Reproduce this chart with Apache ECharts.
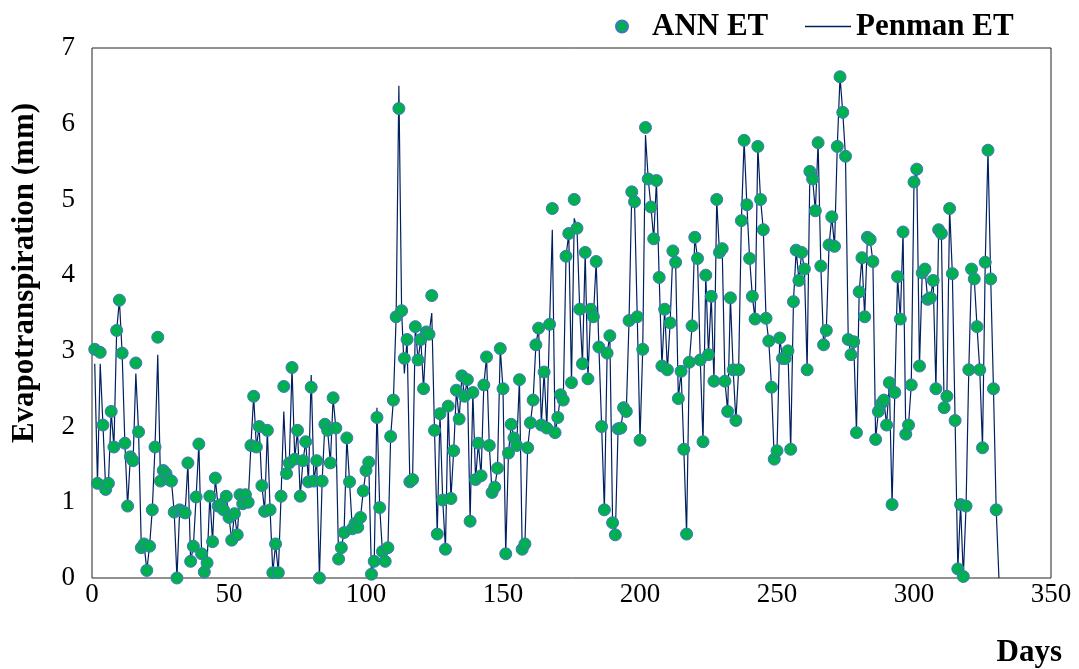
<!DOCTYPE html>
<html>
<head>
<meta charset="utf-8">
<script src="https://cdn.jsdelivr.net/npm/echarts@6/dist/echarts.min.js"></script>
<style>
  html, body { margin: 0; padding: 0; background: #fff; }
  #chart { width: 1079px; height: 669px; }
</style>
</head>
<body>
<div id="chart"></div>
<script>
// Daily evapotranspiration (mm): ANN estimate vs Penman reference
const annET = [
  3.02, 1.25, 2.98, 2.02, 1.17, 1.25, 2.2, 1.73, 3.27, 3.67,
  2.97, 1.78, 0.95, 1.6, 1.55, 2.84, 1.93, 0.4, 0.45, 0.1,
  0.42, 0.9, 1.73, 3.18, 1.28, 1.42, 1.38, 1.3, 1.28, 0.87,
  0.0, 0.9, 0.88, 0.86, 1.52, 0.22, 0.42, 1.07, 1.77, 0.32,
  0.08, 0.2, 1.08, 0.48, 1.32, 0.95, 0.97, 0.9, 1.08, 0.8,
  0.5, 0.85, 0.57, 1.1, 0.98, 1.1, 1.0, 1.75, 2.4, 1.73,
  2.0, 1.22, 0.88, 1.95, 0.9, 0.07, 0.45, 0.07, 1.08, 2.53,
  1.38, 1.52, 2.78, 1.57, 1.95, 1.08, 1.55, 1.8, 1.27, 2.52,
  1.28, 1.55, 0.0, 1.28, 2.03, 1.95, 1.52, 2.38, 1.98, 0.25,
  0.4, 0.6, 1.85, 1.27, 0.65, 0.72, 0.67, 0.8, 1.15, 1.42,
  1.53, 0.05, 0.22, 2.12, 0.93, 0.35, 0.22, 0.4, 1.87, 2.35,
  3.45, 6.2, 3.53, 2.9, 3.15, 1.27, 1.3, 3.32, 2.88, 3.15,
  2.5, 3.25, 3.22, 3.73, 1.95, 0.58, 2.17, 1.03, 0.38, 2.27,
  1.05, 1.68, 2.48, 2.1, 2.67, 2.4, 2.62, 0.75, 2.45, 1.3,
  1.78, 1.35, 2.55, 2.92, 1.75, 1.13, 1.2, 1.45, 3.03, 2.5,
  0.32, 1.65, 2.03, 1.85, 1.75, 2.62, 0.38, 0.45, 1.72, 2.05,
  2.35, 3.08, 3.3, 2.02, 2.72, 1.98, 3.35, 4.88, 1.92, 2.12,
  2.42, 2.35, 4.25, 4.55, 2.58, 5.0, 4.62, 3.55, 2.83, 4.3,
  2.63, 3.55, 3.45, 4.18, 3.05, 2.0, 0.9, 2.97, 3.2, 0.73,
  0.57, 1.97, 1.98, 2.25, 2.2, 3.4, 5.1, 4.97, 3.45, 1.82,
  3.02, 5.95, 5.27, 4.9, 4.48, 5.25, 3.97, 2.8, 3.55, 2.75,
  3.37, 4.32, 4.17, 2.37, 2.73, 1.7, 0.58, 2.85, 3.33, 4.5,
  4.22, 2.88, 1.8, 4.0, 2.95, 3.72, 2.6, 5.0, 4.3, 4.35,
  2.6, 2.2, 3.7, 2.75, 2.08, 2.75, 4.72, 5.78, 4.93, 4.22,
  3.72, 3.42, 5.7, 5.0, 4.6, 3.43, 3.13, 2.52, 1.57, 1.68,
  3.17, 2.9, 2.9, 3.0, 1.7, 3.65, 4.33, 3.93, 4.3, 4.08,
  2.75, 5.37, 5.27, 4.85, 5.75, 4.12, 3.08, 3.27, 4.4, 4.77,
  4.38, 5.7, 6.62, 6.15, 5.57, 3.15, 2.95, 3.12, 1.92, 3.78,
  4.23, 3.45, 4.5, 4.47, 4.18, 1.83, 2.2, 2.3, 2.35, 2.02,
  2.58, 0.97, 2.45, 3.98, 3.42, 4.57, 1.9, 2.02, 2.55, 5.23,
  5.4, 2.8, 4.03, 4.08, 3.68, 3.7, 3.93, 2.5, 4.6, 4.55,
  2.25, 2.4, 4.88, 4.02, 2.08, 0.12, 0.97, 0.02, 0.95, 2.75,
  4.08, 3.95, 3.32, 2.75, 1.72, 4.17, 5.65, 3.95, 2.5, 0.9
];

const penmanET = [
  2.83, 1.25, 2.83, 2.02, 1.17, 1.25, 2.2, 1.73, 3.27, 3.67,
  2.97, 1.78, 0.95, 1.6, 1.55, 2.7, 1.93, 0.4, 0.45, 0.1,
  0.42, 0.9, 1.73, 2.95, 1.28, 1.42, 1.38, 1.3, 1.28, 0.87,
  0.0, 0.9, 0.88, 0.86, 1.52, 0.22, 0.42, 1.07, 1.77, 0.32,
  0.08, 0.2, 1.08, 0.48, 1.32, 0.95, 0.97, 0.9, 1.08, 0.8,
  0.5, 0.85, 0.57, 1.1, 0.98, 1.1, 1.0, 1.75, 2.4, 1.73,
  2.0, 1.22, 0.88, 1.95, 0.9, 0.07, 0.45, 0.07, 1.08, 2.2,
  1.38, 1.52, 2.78, 1.57, 1.95, 1.08, 1.55, 1.8, 1.27, 2.68,
  1.28, 1.55, 0.0, 1.28, 2.03, 1.95, 1.52, 2.38, 1.98, 0.25,
  0.4, 0.6, 1.85, 1.27, 0.65, 0.72, 0.67, 0.8, 1.15, 1.42,
  1.53, 0.05, 0.22, 2.25, 0.93, 0.35, 0.22, 0.4, 1.87, 2.35,
  3.45, 6.5, 3.53, 2.7, 3.15, 1.27, 1.3, 3.32, 2.88, 3.15,
  2.5, 3.25, 3.22, 3.5, 1.95, 0.58, 2.17, 1.03, 0.38, 2.27,
  1.05, 1.68, 2.48, 2.1, 2.67, 2.4, 2.62, 0.75, 2.45, 1.3,
  1.78, 1.35, 2.55, 2.92, 1.75, 1.13, 1.2, 1.45, 3.03, 2.5,
  0.32, 1.65, 2.03, 1.85, 1.75, 2.62, 0.38, 0.45, 1.72, 2.05,
  2.35, 3.08, 3.3, 2.02, 2.72, 1.98, 3.35, 4.6, 1.92, 2.12,
  2.42, 2.35, 4.25, 4.55, 2.58, 4.75, 4.62, 3.55, 2.83, 4.3,
  2.63, 3.55, 3.45, 4.18, 3.05, 2.0, 0.9, 2.97, 3.2, 0.73,
  0.57, 1.97, 1.98, 2.25, 2.2, 3.4, 5.1, 4.97, 3.45, 1.82,
  3.02, 5.85, 5.27, 4.9, 4.48, 5.25, 3.97, 2.8, 3.55, 2.75,
  3.37, 4.32, 4.17, 2.37, 2.73, 1.7, 0.58, 2.85, 3.33, 4.5,
  4.22, 2.88, 1.8, 4.0, 2.95, 3.72, 2.6, 5.0, 4.3, 4.35,
  2.6, 2.2, 3.7, 2.75, 2.08, 2.75, 4.72, 5.78, 4.93, 4.22,
  3.72, 3.42, 5.7, 5.0, 4.6, 3.43, 3.13, 2.52, 1.57, 1.68,
  3.17, 2.9, 2.9, 3.0, 1.7, 3.65, 4.33, 3.93, 4.3, 4.08,
  2.75, 5.37, 5.27, 4.85, 5.75, 4.12, 3.08, 3.27, 4.4, 4.77,
  4.38, 5.7, 6.62, 6.15, 5.57, 3.15, 2.95, 3.12, 1.92, 3.78,
  4.23, 3.45, 4.5, 4.47, 4.18, 1.83, 2.2, 2.3, 2.35, 2.02,
  2.58, 0.97, 2.45, 3.98, 3.42, 4.57, 1.9, 2.02, 2.55, 5.23,
  5.4, 2.8, 4.03, 4.08, 3.68, 3.7, 3.93, 2.5, 4.6, 4.55,
  2.25, 2.4, 4.88, 4.02, 2.08, 0.12, 0.97, 0.02, 0.95, 2.75,
  4.08, 3.95, 3.32, 2.75, 1.72, 4.17, 5.65, 3.95, 2.5, 0.9,
  0.0
];

const xTicks = [0, 50, 100, 150, 200, 250, 300, 350];
const yTicks = [0, 1, 2, 3, 4, 5, 6, 7];

const serif = '"Liberation Serif", "Times New Roman", serif';

// pair each value with its day number (day 1 first)
const annData = annET.map((v, i) => [i + 1, v]);
const penmanData = penmanET.map((v, i) => [i + 1, v]);

const chart = echarts.init(document.getElementById('chart'), null, { renderer: 'canvas' });

chart.setOption({
  backgroundColor: '#ffffff',
  animation: false,
  grid: {
    left: 92, right: 28, top: 48, bottom: 91,
    containLabel: false, outerBoundsMode: 'none',
    show: true, borderColor: '#222', borderWidth: 1, backgroundColor: 'transparent'
  },
  legend: [
    {
      data: [{ name: 'ANN ET', icon: 'circle' }],
      left: 610, top: 6,
      itemWidth: 12, itemHeight: 12,
      textStyle: { fontFamily: serif, fontWeight: 'bold', fontSize: 31, color: '#000', padding: [0, 0, 0, 19] }
    },
    {
      data: [{ name: 'Penman ET', icon: 'rect' }],
      left: 800, top: 6,
      itemWidth: 46, itemHeight: 1.5,
      itemStyle: { color: '#002060', borderWidth: 0 },
      textStyle: { fontFamily: serif, fontWeight: 'bold', fontSize: 31, color: '#000', padding: [0, 0, 0, 0] }
    }
  ],
  xAxis: {
    type: 'value', min: xTicks[0], max: xTicks[xTicks.length - 1], interval: 50,
    axisLine: { show: false }, axisTick: { show: false }, splitLine: { show: false },
    axisLabel: { fontFamily: serif, fontSize: 27, color: '#000', margin: 3 }
  },
  yAxis: {
    type: 'value', min: yTicks[0], max: yTicks[yTicks.length - 1], interval: 1,
    axisLine: { show: false }, axisTick: { show: false }, splitLine: { show: false },
    axisLabel: { fontFamily: serif, fontSize: 27, color: '#000', margin: 17 }
  },
  graphic: [
    {
      type: 'text', x: 25, y: 273, rotation: Math.PI / 2,
      style: {
        text: 'Evapotranspiration (mm)', font: 'bold 31px ' + serif, fill: '#000',
        align: 'center', verticalAlign: 'middle'
      }
    },
    {
      type: 'text', right: 17, top: 637,
      style: { text: 'Days', font: 'bold 31px ' + serif, fill: '#000' }
    }
  ],
  series: [
    {
      name: 'Penman ET', type: 'line', data: penmanData,
      showSymbol: false, symbol: 'none',
      lineStyle: { color: '#002060', width: 1.2 },
      itemStyle: { color: '#002060' },
      z: 2
    },
    {
      name: 'ANN ET', type: 'scatter', data: annData,
      symbol: 'circle', symbolSize: 12,
      itemStyle: { color: '#00B050', borderColor: '#4472C4', borderWidth: 1, opacity: 1 },
      z: 3
    }
  ]
});
</script>
</body>
</html>
